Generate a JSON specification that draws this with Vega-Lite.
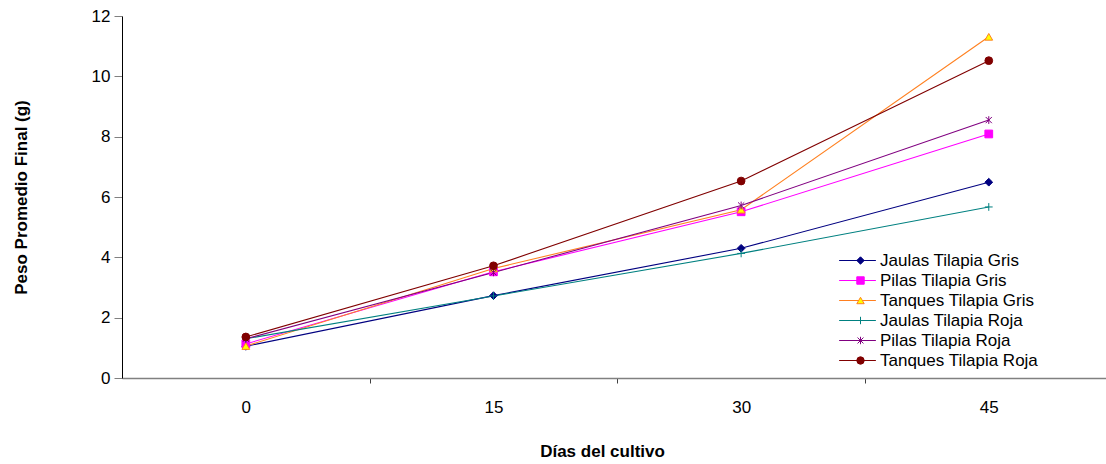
{
  "$schema": "https://vega.github.io/schema/vega-lite/v6.json",
  "width": 984,
  "height": 362,
  "autosize": {"type": "none"},
  "padding": {"left": 122, "top": 16, "right": 0, "bottom": 86},
  "background": "white",
  "config": {
    "view": {"stroke": null},
    "font": "Liberation Sans",
    "axis": {"grid": false, "labelColor": "black", "titleColor": "black", "labelFont": "Liberation Sans", "titleFont": "Liberation Sans"},
    "legend": {"labelFont": "Liberation Sans"}
  },
  "data": {
    "values": [
      {"dia": 0, "serie": "Jaulas Tilapia Gris", "peso": 1.05},
      {"dia": 15, "serie": "Jaulas Tilapia Gris", "peso": 2.73},
      {"dia": 30, "serie": "Jaulas Tilapia Gris", "peso": 4.3},
      {"dia": 45, "serie": "Jaulas Tilapia Gris", "peso": 6.49},
      {"dia": 0, "serie": "Pilas Tilapia Gris", "peso": 1.13},
      {"dia": 15, "serie": "Pilas Tilapia Gris", "peso": 3.52},
      {"dia": 30, "serie": "Pilas Tilapia Gris", "peso": 5.51},
      {"dia": 45, "serie": "Pilas Tilapia Gris", "peso": 8.09},
      {"dia": 0, "serie": "Tanques Tilapia Gris", "peso": 1.06},
      {"dia": 15, "serie": "Tanques Tilapia Gris", "peso": 3.63},
      {"dia": 30, "serie": "Tanques Tilapia Gris", "peso": 5.58},
      {"dia": 45, "serie": "Tanques Tilapia Gris", "peso": 11.31},
      {"dia": 0, "serie": "Jaulas Tilapia Roja", "peso": 1.3},
      {"dia": 15, "serie": "Jaulas Tilapia Roja", "peso": 2.72},
      {"dia": 30, "serie": "Jaulas Tilapia Roja", "peso": 4.13},
      {"dia": 45, "serie": "Jaulas Tilapia Roja", "peso": 5.67},
      {"dia": 0, "serie": "Pilas Tilapia Roja", "peso": 1.3},
      {"dia": 15, "serie": "Pilas Tilapia Roja", "peso": 3.5},
      {"dia": 30, "serie": "Pilas Tilapia Roja", "peso": 5.72},
      {"dia": 45, "serie": "Pilas Tilapia Roja", "peso": 8.55},
      {"dia": 0, "serie": "Tanques Tilapia Roja", "peso": 1.36},
      {"dia": 15, "serie": "Tanques Tilapia Roja", "peso": 3.72},
      {"dia": 30, "serie": "Tanques Tilapia Roja", "peso": 6.53},
      {"dia": 45, "serie": "Tanques Tilapia Roja", "peso": 10.52}
    ]
  },
  "encoding": {
    "x": {
      "field": "dia",
      "type": "quantitative",
      "scale": {"domain": [-7.5, 52.1], "nice": false, "zero": false},
      "axis": {
        "title": "Días del cultivo",
        "titleFontSize": 17,
        "titleFontWeight": "bold",
        "titleX": 480,
        "titlePadding": 28,
        "values": [0, 7.5, 15, 22.5, 30, 37.5, 45],
        "labelExpr": "datum.value % 15 == 0 ? datum.label : ''",
        "labelFontSize": 17,
        "labelPadding": 16,
        "labelFlush": false,
        "labelOverlap": false,
        "tickSize": 5,
        "tickColor": "#404040",
        "tickOpacity": {"condition": {"test": "datum.value % 15 == 0", "value": 0}, "value": 1},
        "domainColor": "#808080",
        "domainWidth": 1.5
      }
    },
    "y": {
      "field": "peso",
      "type": "quantitative",
      "scale": {"domain": [0, 12], "nice": false},
      "axis": {
        "title": "Peso Promedio  Final (g)",
        "titleFontSize": 17,
        "titleFontWeight": "bold",
        "titlePadding": 61,
        "values": [0, 2, 4, 6, 8, 10, 12],
        "labelFontSize": 17,
        "labelPadding": 4,
        "tickSize": 8,
        "tickColor": "#808080",
        "domainColor": "black",
        "domainWidth": 1
      }
    }
  },
  "layer": [
    {
      "mark": {"type": "line", "strokeWidth": 1.1},
      "encoding": {
        "detail": {"field": "serie"},
        "color": {
          "field": "serie",
          "type": "nominal",
          "sort": ["Jaulas Tilapia Gris", "Pilas Tilapia Gris", "Tanques Tilapia Gris", "Jaulas Tilapia Roja", "Pilas Tilapia Roja", "Tanques Tilapia Roja"],
          "scale": {
            "range": ["#000080", "#FF00FF", "#FF8020", "#008080", "#800080", "#800000"]
          },
          "legend": {
            "title": null,
            "orient": "none",
            "legendX": 727,
            "legendY": 236,
            "padding": 0,
            "rowPadding": 2,
            "symbolType": "M-2.6,0H2.6",
            "symbolSize": 200,
            "symbolStrokeWidth": 1.2,
            "symbolFillColor": "transparent",
            "labelFontSize": 17,
            "labelOffset": 14,
            "labelColor": "black",
            "labelLimit": 400
          }
        }
      }
    },
    {
      "mark": {"type": "point", "filled": true, "opacity": 1, "size": 60, "strokeWidth": 1},
      "encoding": {
        "shape": {
          "field": "serie",
          "type": "nominal",
          "scale": {
            "domain": ["Jaulas Tilapia Gris", "Pilas Tilapia Gris", "Tanques Tilapia Gris", "Jaulas Tilapia Roja", "Pilas Tilapia Roja", "Tanques Tilapia Roja"],
            "range": ["diamond", "square", "triangle-up", "M-1,0H1M0,-1V1", "M-0.8,-0.8L0.8,0.8M-0.8,0.8L0.8,-0.8M0,-1V1", "circle"]
          },
          "legend": {
            "title": null,
            "orient": "none",
            "legendX": 730,
            "legendY": 236,
            "padding": 0,
            "rowPadding": 2,
            "symbolSize": 55,
            "symbolStrokeWidth": 1,
            "symbolOpacity": 1,
            "labelFontSize": 17,
            "labelExpr": "''"
          }
        },
        "fill": {
          "field": "serie",
          "type": "nominal",
          "scale": {
            "domain": ["Jaulas Tilapia Gris", "Pilas Tilapia Gris", "Tanques Tilapia Gris", "Jaulas Tilapia Roja", "Pilas Tilapia Roja", "Tanques Tilapia Roja"],
            "range": ["#000080", "#FF00FF", "#FFFF00", "#008080", "#800080", "#800000"]
          },
          "legend": {
            "title": null,
            "orient": "none",
            "legendX": 730,
            "legendY": 236,
            "padding": 0,
            "rowPadding": 2,
            "symbolSize": 55,
            "symbolStrokeWidth": 1,
            "symbolOpacity": 1,
            "labelFontSize": 17,
            "labelExpr": "''"
          }
        },
        "stroke": {
          "field": "serie",
          "type": "nominal",
          "scale": {
            "domain": ["Jaulas Tilapia Gris", "Pilas Tilapia Gris", "Tanques Tilapia Gris", "Jaulas Tilapia Roja", "Pilas Tilapia Roja", "Tanques Tilapia Roja"],
            "range": ["#000080", "#FF00FF", "#FF8020", "#008080", "#800080", "#800000"]
          },
          "legend": {
            "title": null,
            "orient": "none",
            "legendX": 730,
            "legendY": 236,
            "padding": 0,
            "rowPadding": 2,
            "symbolSize": 55,
            "symbolStrokeWidth": 1,
            "symbolOpacity": 1,
            "labelFontSize": 17,
            "labelExpr": "''"
          }
        }
      }
    }
  ]
}
